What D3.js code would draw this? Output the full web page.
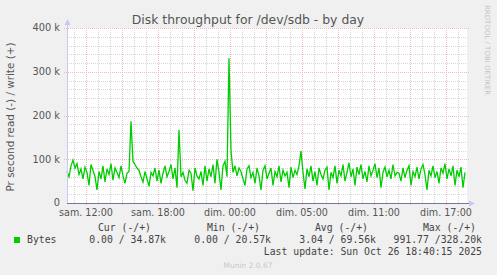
<!DOCTYPE html>
<html>
<head>
<meta charset="utf-8">
<script src="https://cdn.jsdelivr.net/npm/d3@7"></script>
<style>
  body { margin: 0; background: #f0f0f0; }
  svg { display: block; }
  text { font-family: "DejaVu Sans", sans-serif; fill: #555; }
  .mono { font-family: "DejaVu Sans Mono", monospace; font-size: 9.8px; fill: #444; }
</style>
</head>
<body>
<div id="chart"></div>
<script>
// hours relative to "sam. 12:00"
const startHour = -19 / 12;
const stepHours = 1 / 6;   // 10 min
const endHour = 381 / 12;

// write bytes per second, in k
const writeK = [
  72, 60, 85, 98, 80, 90, 65, 78, 55, 82,
  70, 40, 88, 75, 60, 30, 72, 55, 85, 48,
  78, 65, 90, 52, 80, 70, 58, 85, 62, 45,
  68, 72, 187, 95, 88, 80, 75, 60, 48, 72,
  55, 38, 70, 62, 80, 50, 75, 45, 68, 85,
  60, 72, 88, 55, 80, 35, 167, 60, 70, 52,
  45, 75, 68, 28, 80, 62, 55, 72, 40, 85,
  50, 78, 60, 88, 45, 100, 70, 30, 85, 95,
  60, 331, 120, 70, 85, 62, 80, 72, 55, 40,
  78, 85, 58, 70, 45, 80, 62, 30, 75, 85,
  55, 68, 80, 40, 72, 60, 85, 48, 75, 62,
  70, 35, 82, 58, 75, 65, 85, 119, 70, 32,
  78, 60, 85, 50, 72, 40, 80, 65, 55, 75,
  82, 30, 70, 58, 85, 45, 75, 62, 88, 50,
  70, 92, 60, 78, 40, 82, 65, 88, 55, 72,
  48, 85, 62, 75, 90, 58, 80, 35, 70, 82,
  60, 75, 55, 88, 62, 70, 68, 50, 80, 58,
  75, 85, 40, 72, 60, 82, 55, 78, 88, 65,
  30, 75, 62, 85, 58, 72, 45, 80, 68, 90,
  55, 78, 62, 85, 40, 75, 60, 82, 35, 70
];

const xTickHours = [0, 6, 12, 18, 24, 30];
const xTickLabels = ['sam. 12:00', 'sam. 18:00', 'dim. 00:00', 'dim. 05:00', 'dim. 11:00', 'dim. 17:00'];
const yTicks = [0, 100, 200, 300, 400];

const legendHeaders = ['Cur (-/+)', 'Min (-/+)', 'Avg (-/+)', 'Max (-/+)'];
const legendValues = ['0.00 / 34.87k', '0.00 / 20.57k', '3.04 / 69.56k', '991.77 /328.20k'];

const width = 497;
const height = 275;
const plot = { left: 67, right: 467, top: 28, bottom: 203 };

const svg = d3.select('#chart').append('svg')
    .attr('width', width)
    .attr('height', height);

svg.append('rect').attr('width', width).attr('height', height).attr('fill', '#f0f0f0');
svg.append('rect')
    .attr('x', plot.left).attr('y', plot.top)
    .attr('width', plot.right - plot.left).attr('height', plot.bottom - plot.top)
    .attr('fill', '#fff');

const xScale = d3.scaleLinear().domain([startHour, endHour]).range([plot.left, plot.right]);
const yScale = d3.scaleLinear().domain([0, 400]).range([plot.bottom, plot.top]);

// grid
const grid = svg.append('g');
const minorX = d3.range(Math.ceil(startHour), endHour, 1);
const minorY = d3.range(20, 401, 20);
grid.selectAll('.mx').data(minorX.filter(h => h % 3 !== 0)).enter().append('line')
    .attr('x1', d => Math.round(xScale(d)) + 0.5).attr('x2', d => Math.round(xScale(d)) + 0.5)
    .attr('y1', plot.top).attr('y2', plot.bottom)
    .attr('stroke', '#d6d6d6').attr('stroke-dasharray', '1,1');
grid.selectAll('.my').data(minorY.filter(v => v % 100 !== 0)).enter().append('line')
    .attr('y1', d => Math.round(yScale(d)) + 0.5).attr('y2', d => Math.round(yScale(d)) + 0.5)
    .attr('x1', plot.left).attr('x2', plot.right)
    .attr('stroke', '#d6d6d6').attr('stroke-dasharray', '1,1');
grid.selectAll('.Mx').data(minorX.filter(h => h % 3 === 0)).enter().append('line')
    .attr('x1', d => Math.round(xScale(d)) + 0.5).attr('x2', d => Math.round(xScale(d)) + 0.5)
    .attr('y1', plot.top).attr('y2', plot.bottom + 3)
    .attr('stroke', '#ecbcbc').attr('stroke-dasharray', '1,1');
grid.selectAll('.My').data(yTicks.slice(1)).enter().append('line')
    .attr('y1', d => Math.round(yScale(d)) + 0.5).attr('y2', d => Math.round(yScale(d)) + 0.5)
    .attr('x1', plot.left - 3).attr('x2', plot.right + 3)
    .attr('stroke', '#ecbcbc').attr('stroke-dasharray', '1,1');

// data line
const line = d3.line()
    .x((d, i) => xScale(startHour + i * stepHours))
    .y(d => yScale(d));
svg.append('path')
    .datum(writeK)
    .attr('fill', 'none')
    .attr('stroke', '#00cc00')
    .attr('stroke-width', 1.3)
    .attr('d', line);

// axes
svg.append('line')
    .attr('x1', plot.left + 0.5).attr('x2', plot.left + 0.5)
    .attr('y1', plot.bottom).attr('y2', plot.top - 4)
    .attr('stroke', '#c8c8f0');
svg.append('path')
    .attr('d', `M${plot.left - 2.5},${plot.top - 3} L${plot.left + 3.5},${plot.top - 3} L${plot.left + 0.5},${plot.top - 9} Z`)
    .attr('fill', '#c8c8f0');
svg.append('line')
    .attr('x1', plot.left).attr('x2', plot.right + 3)
    .attr('y1', plot.bottom + 0.5).attr('y2', plot.bottom + 0.5)
    .attr('stroke', '#777799');
svg.append('path')
    .attr('d', `M${plot.right + 2},${plot.bottom - 2.5} L${plot.right + 2},${plot.bottom + 3.5} L${plot.right + 8},${plot.bottom + 0.5} Z`)
    .attr('fill', '#c8c8f0');

// y tick labels
svg.selectAll('.ylab').data(yTicks).enter().append('text')
    .attr('x', 60).attr('y', d => yScale(d))
    .attr('dy', '0.35em')
    .attr('text-anchor', 'end')
    .style('font-size', '9.8px')
    .text(d => d === 0 ? '0' : d + ' k');

// x tick labels
svg.selectAll('.xlab').data(xTickHours).enter().append('text')
    .attr('x', d => xScale(d)).attr('y', 216)
    .attr('text-anchor', 'middle')
    .style('font-size', '9.6px')
    .text((d, i) => xTickLabels[i]);

// title
svg.append('text')
    .attr('x', 248).attr('y', 24)
    .attr('text-anchor', 'middle')
    .style('font-size', '12.4px')
    .text('Disk throughput for /dev/sdb - by day');

// y axis label
svg.append('text')
    .attr('transform', 'translate(14,117) rotate(-90)')
    .attr('text-anchor', 'middle')
    .style('font-size', '10.4px')
    .text('Pr second read (-) / write (+)');

// watermark
svg.append('text')
    .attr('transform', 'translate(485,5) rotate(90)')
    .attr('text-anchor', 'start')
    .style('font-size', '7px')
    .style('fill', '#c4c4c4')
    .text('RRDTOOL / TOBI OETIKER');

// legend
svg.append('rect')
    .attr('x', 14).attr('y', 237).attr('width', 6).attr('height', 6)
    .attr('fill', '#00cc00');
svg.append('text').attr('class', 'mono').attr('x', 27).attr('y', 243).text('Bytes');
const headerEnds = [151, 260, 368, 476];
const valueEnds = [166, 271, 376, 482];
svg.selectAll('.lh').data(legendHeaders).enter().append('text')
    .attr('class', 'mono')
    .attr('x', (d, i) => headerEnds[i]).attr('y', 231)
    .attr('text-anchor', 'end')
    .text(d => d);
svg.selectAll('.lv').data(legendValues).enter().append('text')
    .attr('class', 'mono')
    .attr('x', (d, i) => valueEnds[i]).attr('y', 243)
    .attr('text-anchor', 'end')
    .text(d => d);
svg.append('text').attr('class', 'mono')
    .attr('x', 482).attr('y', 255)
    .attr('text-anchor', 'end')
    .text('Last update: Sun Oct 26 18:40:15 2025');
svg.append('text')
    .attr('x', 248).attr('y', 268)
    .attr('text-anchor', 'middle')
    .style('font-size', '7.5px')
    .style('fill', '#c8c8c8')
    .text('Munin 2.0.67');
</script>
</body>
</html>
